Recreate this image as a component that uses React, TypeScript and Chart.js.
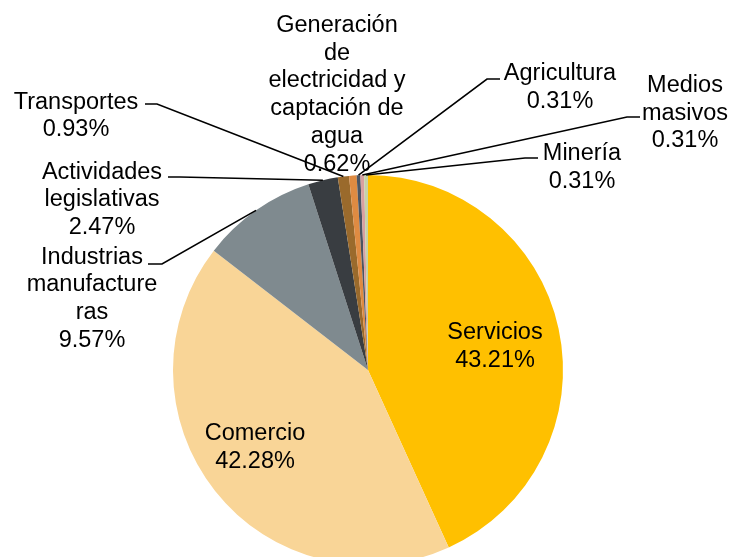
import React, { useEffect, useRef } from "react";
import { Chart, registerables } from "chart.js";

Chart.register(...registerables);

const categories = [
  "Servicios",
  "Comercio",
  "Industrias manufactureras",
  "Actividades legislativas",
  "Transportes",
  "Generación de electricidad y captación de agua",
  "Agricultura",
  "Medios masivos",
  "Minería",
];
const values = [43.21, 42.28, 9.57, 2.47, 0.93, 0.62, 0.31, 0.31, 0.31];
const valueLabels = ["43.21%", "42.28%", "9.57%", "2.47%", "0.93%", "0.62%", "0.31%", "0.31%", "0.31%"];
const nameLines = [
  ["Servicios"],
  ["Comercio"],
  ["Industrias", "manufacture", "ras"],
  ["Actividades", "legislativas"],
  ["Transportes"],
  ["Generación", "de", "electricidad y", "captación de", "agua"],
  ["Agricultura"],
  ["Medios", "masivos"],
  ["Minería"],
];
const colors = [
  "#FFC000",
  "#F9D597",
  "#7F8A8F",
  "#393D41",
  "#9A6A2C",
  "#DF8B42",
  "#4B5563",
  "#D9A0A0",
  "#C5D3A8",
];

// label layout: center x, baseline of first line
const labelPos: [number, number][] = [
  [495, 339],
  [255, 440],
  [92, 263.5],
  [102, 178.5],
  [76, 108.5],
  [337, 32],
  [560, 80],
  [685, 92],
  [582, 160],
];
// leader lines: [textSideEnd, knee] or null
const leaders: ([number, number][] | null)[] = [
  null,
  null,
  [[148, 264], [162, 264]],
  [[168, 177], [180, 177]],
  [[145, 104], [157, 104]],
  null,
  [[500, 79], [487, 79]],
  [[640, 117], [627, 117]],
  [[538, 158], [525, 158]],
];

const LINE_H = 27.7;
const FONT = '23.5px "Liberation Sans", Arial, sans-serif';

const labelPlugin = {
  id: "pieLabels",
  afterDatasetsDraw(chart: any) {
    const ctx = chart.ctx;
    const meta = chart.getDatasetMeta(0);
    ctx.save();
    // leader lines
    ctx.strokeStyle = "#000";
    ctx.lineWidth = 1.6;
    meta.data.forEach((arc: any, i: number) => {
      const ld = leaders[i];
      if (!ld) return;
      const p = arc.getProps(["x", "y", "startAngle", "endAngle", "outerRadius"], true);
      const mid = (p.startAngle + p.endAngle) / 2;
      const ex = p.x + Math.cos(mid) * p.outerRadius;
      const ey = p.y + Math.sin(mid) * p.outerRadius;
      ctx.beginPath();
      ctx.moveTo(ld[0][0], ld[0][1]);
      ctx.lineTo(ld[1][0], ld[1][1]);
      ctx.lineTo(ex, ey);
      ctx.stroke();
    });
    // texts
    ctx.font = FONT;
    ctx.fillStyle = "#000";
    ctx.textAlign = "center";
    ctx.textBaseline = "alphabetic";
    categories.forEach((_, i) => {
      const lines = [...nameLines[i], valueLabels[i]];
      const [cx, by] = labelPos[i];
      lines.forEach((t, k) => {
        ctx.fillText(t, cx, by + k * LINE_H);
      });
    });
    ctx.restore();
  },
};

export default function App() {
  const ref = useRef<HTMLCanvasElement | null>(null);
  useEffect(() => {
    if (!ref.current) return;
    const chart = new Chart(ref.current, {
      type: "pie",
      data: {
        labels: categories,
        datasets: [
          {
            data: values,
            backgroundColor: colors,
            borderWidth: 0,
          },
        ],
      },
      options: {
        responsive: false,
        animation: false,
        devicePixelRatio: 1,
        layout: { padding: { left: 173, right: 169, top: 175, bottom: 35 } },
        plugins: {
          legend: { display: false },
          tooltip: { enabled: false },
          title: { display: false },
        },
      },
      plugins: [labelPlugin],
    });
    return () => chart.destroy();
  }, []);
  return (
    <div
      style={{
        position: "absolute",
        left: 0,
        top: 0,
        width: 732,
        height: 557,
        overflow: "hidden",
        background: "#fff",
      }}
    >
      <canvas ref={ref} width={732} height={600} style={{ display: "block" }} />
    </div>
  );
}
